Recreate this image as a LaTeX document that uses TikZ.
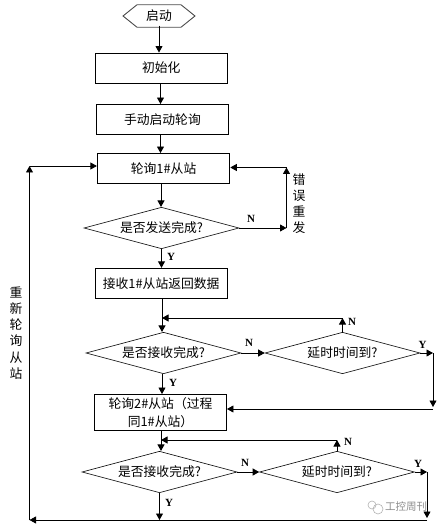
\documentclass[tikz,border=0pt]{standalone}
\usepackage{fontspec}
\setmainfont{Liberation Serif}
\newfontfamily\cjk{Noto Sans CJK SC}
\usetikzlibrary{arrows.meta,shapes.geometric,shapes.symbols}
\tikzset{
  boxnode/.style={draw,line width=0.9pt,inner sep=0pt,font=\cjk\fontsize{12.8}{17.5}\selectfont,align=center},
  decnode/.style={boxnode,diamond,shape aspect=3.73,minimum width=155pt,minimum height=41.5pt,line width=0.6pt},
  startnode/.style={boxnode,signal,signal to=west and east,signal pointer angle=77.6,minimum width=72pt,minimum height=22.5pt,draw=black!70},
  conn/.style={line width=0.8pt},
  arr/.style={conn,-{Triangle[length=6.5pt,width=7pt]}},
  yn/.style={font=\fontsize{11}{11}\selectfont\bfseries,inner sep=0pt},
  vlabel/.style={font=\cjk\fontsize{12.8}{16.2}\selectfont,align=center,inner sep=0pt},
}
\begin{document}
\begin{tikzpicture}[x=1pt,y=-1pt]
\useasboundingbox (0,0) rectangle (441,526);
\node[startnode] (start) at (159,16) {启动};
\node[boxnode,minimum width=132.5pt,minimum height=30pt] (init) at (161.2,68) {初始化};
\node[boxnode,minimum width=132.5pt,minimum height=30pt] (manual) at (162.4,119.5) {手动启动轮询};
\node[boxnode,minimum width=132.5pt,minimum height=30pt] (poll1) at (163.6,168.5) {轮询1\#从站};
\node[decnode] (sent) at (161.5,228) {是否发送完成?};
\node[boxnode,minimum width=132.5pt,minimum height=30pt] (recv1) at (161.2,283.3) {接收1\#从站返回数据};
\node[decnode] (done1) at (163.5,353) {是否接收完成?};
\node[decnode] (delay1) at (342.5,353) {延时时间到?};
\node[boxnode,minimum width=132pt,minimum height=36pt] (poll2) at (160.5,412.5) {轮询2\#从站（过程\\同1\#从站）};
\node[decnode] (done2) at (159.5,472) {是否接收完成?};
\node[decnode] (delay2) at (337,472) {延时时间到?};

\coordinate (retry) at (286.5,228);
\coordinate (retrytop) at (286.5,167.5);
\coordinate (y1) at (433,353);
\coordinate (y1b) at (433,407);
\coordinate (y1c) at (433,409);
\coordinate (y2) at (427,472);
\coordinate (y2b) at (427,518);
\coordinate (bottomr) at (427,520);
\coordinate (bottoml) at (29.5,520);
\coordinate (lefttop) at (29.5,166);
\coordinate (jn1) at (162,318);
\coordinate (jn2) at (161,440);
\coordinate (c1) at (160.5,0);
\coordinate (c2) at (161,0);
\coordinate (c3) at (162,0);

\draw[arr] ([yshift=2pt]start.south) -- (start.south |- init.north);
\draw[arr] (c1 |- init.south) -- (c1 |- manual.north);
\draw[arr] (c1 |- manual.south) -- (c1 |- poll1.north);
\draw[arr] (c2 |- poll1.south) -- (c2 |- sent.north);
\draw[arr] (sent.south) -- (sent.south |- recv1.north);
\draw[arr] (sent.east) -- (retry);
\draw[arr] (retry) -- (retrytop);
\draw[arr] (retrytop) -- (poll1.east |- retrytop);
\draw[arr] (c3 |- recv1.south) -- (c3 |- done1.north);
\draw[arr] (delay1.north) -- (delay1.north |- jn1);
\draw[arr] (delay1.north |- jn1) -- (jn1);
\draw[arr] (done1.east) -- (delay1.west);
\draw[arr] (delay1.east) -- (y1);
\draw[arr] (y1) -- (y1b);
\draw[arr] (y1c) -- (poll2.east |- y1c);
\draw[arr] (c3 |- done1.south) -- (c3 |- poll2.north);
\draw[arr] (c2 |- poll2.south) -- (c2 |- done2.north);
\draw[arr] (delay2.north) -- (delay2.north |- jn2);
\draw[arr] (delay2.north |- jn2) -- (jn2);
\draw[arr] (done2.east) -- (delay2.west);
\draw[arr] (delay2.east) -- (y2);
\draw[arr] (y2) -- (y2b);
\draw[arr] (bottomr) -- (bottoml);
\draw[arr] (done2.south) -- (done2.south |- bottomr);
\draw[arr] (bottoml) -- (lefttop);
\draw[arr] (lefttop) -- (lefttop -| poll1.west);

\node[yn] (n1) at (251,219) {N};
\node[yn] (ly1) at (171,256.5) {Y};
\node[yn] (n2) at (249,343) {N};
\node[yn] (n3) at (352,321.5) {N};
\node[yn] (ly2) at (422.5,345) {Y};
\node[yn] (ly3) at (173,383) {Y};
\node[yn] (n4) at (348,441.5) {N};
\node[yn] (n5) at (245,463) {N};
\node[yn] (ly4) at (418,464) {Y};
\node[yn] (ly5) at (169,503) {Y};
\node[vlabel] (lab1) at (299,203.5) {错\\误\\重\\发};
\node[vlabel] (lab2) at (16,333) {重\\新\\轮\\询\\从\\站};
\node[font=\cjk\fontsize{10.5}{10.5}\selectfont,text=black!45,inner sep=0pt] (wm) at (406,507) {工控周刊};
\draw[black!30,line width=0.6pt] (372,505) circle (4);
\draw[black!30,line width=0.6pt] (378,509) circle (5);
\end{tikzpicture}
\end{document}
